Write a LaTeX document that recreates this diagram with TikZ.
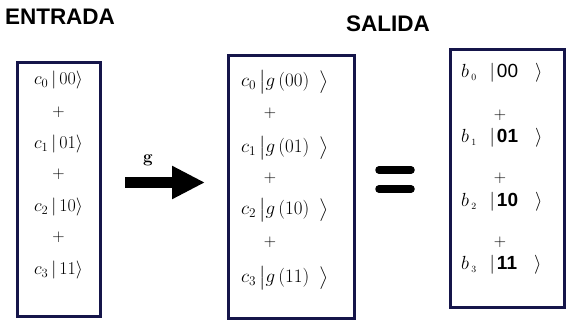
\RequirePackage{fix-cm}
\documentclass[tikz,border=0pt]{standalone}
\usepackage{amsmath,amssymb}
\usepackage{fontspec}
\setsansfont{Liberation Sans}
\usepackage{xcolor}
\usepackage{tikz}
\usetikzlibrary{arrows.meta,positioning,calc}

\definecolor{boxnavy}{HTML}{15154A}

\begin{document}
\begin{tikzpicture}[
    x=1pt, y=-1pt,
    box/.style={draw=boxnavy, line width=3pt, inner sep=0pt},
    ket/.style={font=\fontsize{18}{21.6}\selectfont, inner sep=0pt},
    gket/.style={font=\fontsize{19}{22}\selectfont, inner sep=0pt, anchor=west},
    bket/.style={font=\fontsize{19}{22.8}\selectfont, inner sep=0pt, anchor=west},
    plus/.style={font=\fontsize{17}{20}\selectfont, inner sep=0pt},
    title/.style={font=\fontsize{22.5}{26}\selectfont\sffamily\bfseries, inner sep=0pt},
    bigarrow/.style={line width=11pt, -{Triangle[length=33pt, width=31pt]}},
    eqbar/.style={line width=7.5pt, line cap=round}
]
    \useasboundingbox[fill=white] (0,0) rectangle (568,321);

    % titles
    \node[title] (entrada) at (60,17) {ENTRADA};
    \node[title] (salida) at (388,24) {SALIDA};

    % input register
    \node[box, minimum width=83pt, minimum height=253pt] (inbox) at (58.5,189.5) {};
    \node[ket] (in0) at (58.5,80) {$c_0\,|\,00\rangle$};
    \node[plus] (inp1) at (58.5,112) {$+$};
    \node[ket] (in1) at (58.5,144) {$c_1\,|\,01\rangle$};
    \node[plus] (inp2) at (58.5,174) {$+$};
    \node[ket] (in2) at (58.5,207) {$c_2\,|\,10\rangle$};
    \node[plus] (inp3) at (58.5,237) {$+$};
    \node[ket] (in3) at (58.5,270) {$c_3\,|\,11\rangle$};

    % applied g
    \coordinate (gtail) at (125,182.5);
    \coordinate (ghead) at (205,182.5);
    \draw[bigarrow] (gtail) -- (ghead);
    \node[font=\fontsize{17}{20}\selectfont\bfseries, inner sep=0pt] (glabel) at (148,160) {g};

    % g applied to each term
    \node[box, minimum width=126pt, minimum height=262pt] (midbox) at (291,187) {};
    \node[gket] (mid0) at (241,82) {$c_0\,\big|g\,(00)\;\;\big\rangle$};
    \node[plus] (midp1) at (270,113) {$+$};
    \node[gket] (mid1) at (241,148) {$c_1\,\big|g\,(01)\;\;\big\rangle$};
    \node[plus] (midp2) at (270,178) {$+$};
    \node[gket] (mid2) at (241,210) {$c_2\,\big|g\,(10)\;\;\big\rangle$};
    \node[plus] (midp3) at (270,242) {$+$};
    \node[gket] (mid3) at (241,278) {$c_3\,\big|g\,(11)\;\;\big\rangle$};

    % equals
    \coordinate (eq) at (395,179.5);
    \draw[eqbar] ($(eq)+(-16,-9.5)$) -- ($(eq)+(16,-9.5)$);
    \draw[eqbar] ($(eq)+(-16,9.5)$) -- ($(eq)+(16,9.5)$);

    % output register
    \node[box, minimum width=114pt, minimum height=257pt] (outbox) at (507,178.5) {};
    \node[bket] (out0) at (461,73) {$b_{\,\scriptscriptstyle 0}$\hspace{13pt}$|$\hspace{2pt}\textsf{00}\hspace{17pt}$\rangle$};
    \node[plus] (outp1) at (500,115) {$+$};
    \node[bket] (out1) at (461,138) {$b_{\,\scriptscriptstyle 1}$\hspace{13pt}$|$\hspace{2pt}\textsf{\bfseries 01}\hspace{17pt}$\rangle$};
    \node[plus] (outp2) at (500,178) {$+$};
    \node[bket] (out2) at (461,202) {$b_{\,\scriptscriptstyle 2}$\hspace{13pt}$|$\hspace{2pt}\textsf{\bfseries 10}\hspace{17pt}$\rangle$};
    \node[plus] (outp3) at (500,242) {$+$};
    \node[bket] (out3) at (461,265) {$b_{\,\scriptscriptstyle 3}$\hspace{13pt}$|$\hspace{2pt}\textsf{\bfseries 11}\hspace{17pt}$\rangle$};
\end{tikzpicture}
\end{document}
